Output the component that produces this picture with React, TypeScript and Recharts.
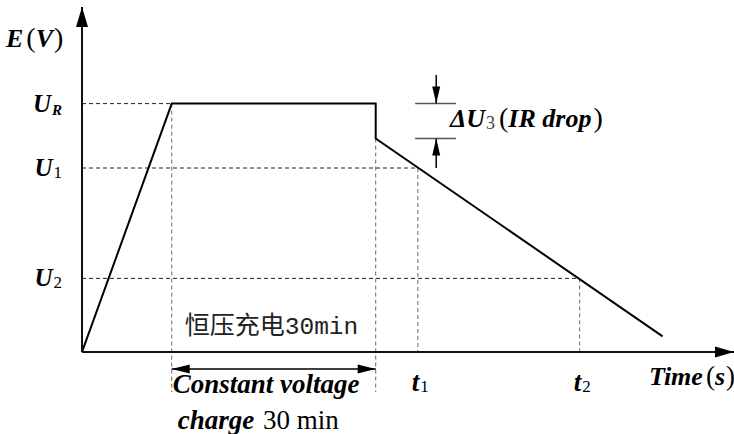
import React from "react";
import {
  LineChart,
  Line,
  XAxis,
  YAxis,
  ReferenceLine,
  ReferenceDot,
} from "recharts";

// charge/discharge curve (time in min, voltage in V, schematic)
const timeMin = [0, 13.2, 43.2, 43.2, 85.4];
const voltage = [0, 2.7, 2.7, 2.32, 0.17];

// voltage levels marked on the E axis
const levelValues = [0.8, 2.0, 2.7];
const levelSubs = ["2", "1", "R"];

// time marks on the Time axis
const timeMarks = [49.4, 73.2];
const timeSubs = ["1", "2"];

// axis ranges and annotation anchors
const timeMax = 95.9;
const voltMax = 3.75;
const chargeStart = 13.2;
const chargeEnd = 43.2;
const dropVolt = 2.32;
const spanBottom = -0.435;
const spanArrowLevel = -0.185;
const irTickX = [49, 55];
const irArrowX = 52.1;
const irArrowTop = 3.01;

const data = timeMin.map((t, i) => ({ t, v: voltage[i] }));

const SERIF = '"Liberation Serif", "Times New Roman", serif';
const DASH = "4 3";

function arrowHead(dir: string, len: number, half: number) {
  return (props: any) => {
    const { cx, cy } = props;
    let pts = "";
    if (dir === "up") pts = `${cx},${cy} ${cx - half},${cy + len} ${cx + half},${cy + len}`;
    if (dir === "down") pts = `${cx},${cy} ${cx - half},${cy - len} ${cx + half},${cy - len}`;
    if (dir === "right") pts = `${cx},${cy} ${cx - len},${cy - half} ${cx - len},${cy + half}`;
    if (dir === "left") pts = `${cx},${cy} ${cx + len},${cy - half} ${cx + len},${cy + half}`;
    return <polygon points={pts} fill="#000" />;
  };
}

function YTick(props: any) {
  const { x, y, index } = props;
  const sub = levelSubs[index];
  const isLetter = sub === "R";
  return (
    <text x={x} y={y} dy={8} textAnchor="end" fontFamily={SERIF} fill="#000">
      <tspan fontSize={25} fontWeight="bold" fontStyle="italic">U</tspan>
      <tspan
        fontSize={isLetter ? 15 : 17}
        dy={isLetter ? 3 : 2}
        dx={1}
        fontWeight={isLetter ? "bold" : "normal"}
        fontStyle={isLetter ? "italic" : "normal"}
      >
        {sub}
      </tspan>
    </text>
  );
}

function XTick(props: any) {
  const { x, y, index } = props;
  return (
    <text x={x - 6} y={y + 39} fontFamily={SERIF} fill="#000">
      <tspan fontSize={27} fontWeight="bold" fontStyle="italic">t</tspan>
      <tspan fontSize={17} dy={1} dx={1}>{timeSubs[index]}</tspan>
    </text>
  );
}

const yLabel = (props: any) => (
  <text x={props.cx - 76} y={props.cy + 40} fontFamily={SERIF} fill="#000" fontSize={28}>
    <tspan fontSize={26} fontWeight="bold" fontStyle="italic">E</tspan>
    <tspan dx={3}>(</tspan>
    <tspan fontSize={26} fontWeight="bold" fontStyle="italic">V</tspan>
    <tspan dx={1}>)</tspan>
  </text>
);

const xLabel = (props: any) => (
  <text x={props.cx + 1} y={props.cy + 33} textAnchor="end" fontFamily={SERIF} fill="#000" fontSize={27}>
    <tspan fontSize={26} fontWeight="bold" fontStyle="italic">Time</tspan>
    <tspan dx={3}>(</tspan>
    <tspan fontSize={26} fontWeight="bold" fontStyle="italic">s</tspan>
    <tspan dx={1}>)</tspan>
  </text>
);

const irLabel = (props: any) => (
  <text x={props.cx - 6} y={props.cy + 23} fontFamily={SERIF} fill="#000" fontSize={28}>
    <tspan fontSize={26} fontWeight="bold" fontStyle="italic">ΔU</tspan>
    <tspan fontSize={18} dy={2} dx={1} fill="#444">3</tspan>
    <tspan dy={-2} dx={4}>(</tspan>
    <tspan fontSize={26} fontWeight="bold" fontStyle="italic">IR drop</tspan>
    <tspan dx={2}>)</tspan>
  </text>
);

const chargeLabels = (props: any) => (
  <g fill="#000">
    <text x={props.cx + 13} y={props.cy - 18} fontSize={25} fill="#222">
      <tspan fontFamily='"Noto Sans CJK SC", sans-serif'>恒压充电</tspan>
      <tspan fontFamily='"Liberation Mono", "DejaVu Sans Mono", monospace' fontSize={24.5}>30min</tspan>
    </text>
    <text x={props.cx + 1} y={props.cy + 41} fontFamily={SERIF} fontSize={27} fontWeight="bold" fontStyle="italic">
      Constant voltage
    </text>
    <text x={props.cx + 6} y={props.cy + 77} fontFamily={SERIF} fontSize={27}>
      <tspan fontWeight="bold" fontStyle="italic">charge</tspan>
      <tspan dx={2}> 30 min</tspan>
    </text>
  </g>
);

export default function App() {
  return (
    <div style={{ position: "absolute", left: 0, top: 0, background: "#fff" }}>
      <LineChart width={734} height={434} data={data} margin={{ top: 7, right: 0, bottom: 52, left: 22 }}>
        <XAxis
          dataKey="t"
          type="number"
          domain={[0, timeMax]}
          ticks={timeMarks}
          interval={0}
          tick={<XTick />}
          tickLine={false}
          tickSize={0}
          tickMargin={0}
          height={30}
          axisLine={{ stroke: "#111", strokeWidth: 2 }}
          allowDataOverflow
        />
        <YAxis
          type="number"
          domain={[0, voltMax]}
          ticks={levelValues}
          interval={0}
          tick={<YTick />}
          tickLine={false}
          tickSize={0}
          tickMargin={20}
          width={60}
          axisLine={{ stroke: "#111", strokeWidth: 2 }}
          allowDataOverflow
        />

        {/* dashed guides to the axes */}
        <ReferenceLine segment={[{ x: 0, y: levelValues[2] }, { x: chargeStart, y: levelValues[2] }]} stroke="#222" strokeDasharray={DASH} />
        <ReferenceLine segment={[{ x: 0, y: levelValues[1] }, { x: timeMarks[0], y: levelValues[1] }]} stroke="#222" strokeDasharray={DASH} />
        <ReferenceLine segment={[{ x: 0, y: levelValues[0] }, { x: timeMarks[1], y: levelValues[0] }]} stroke="#222" strokeDasharray={DASH} />
        <ReferenceLine segment={[{ x: chargeStart, y: levelValues[2] }, { x: chargeStart, y: spanBottom }]} stroke="#666" strokeDasharray={DASH} ifOverflow="visible" />
        <ReferenceLine segment={[{ x: chargeEnd, y: dropVolt }, { x: chargeEnd, y: spanBottom }]} stroke="#666" strokeDasharray={DASH} ifOverflow="visible" />
        <ReferenceLine segment={[{ x: timeMarks[0], y: levelValues[1] }, { x: timeMarks[0], y: 0 }]} stroke="#666" strokeDasharray={DASH} />
        <ReferenceLine segment={[{ x: timeMarks[1], y: levelValues[0] }, { x: timeMarks[1], y: 0 }]} stroke="#666" strokeDasharray={DASH} />

        {/* IR drop marker */}
        <ReferenceLine segment={[{ x: irTickX[0], y: levelValues[2] }, { x: irTickX[1], y: levelValues[2] }]} stroke="#555" strokeWidth={1.5} />
        <ReferenceLine segment={[{ x: irTickX[0], y: dropVolt }, { x: irTickX[1], y: dropVolt }]} stroke="#555" strokeWidth={1.5} />
        <ReferenceLine segment={[{ x: irArrowX, y: irArrowTop }, { x: irArrowX, y: levelValues[2] }]} stroke="#000" strokeWidth={1.5} />
        <ReferenceLine segment={[{ x: irArrowX, y: levelValues[1] }, { x: irArrowX, y: dropVolt }]} stroke="#000" strokeWidth={1.5} />
        <ReferenceDot x={irArrowX} y={levelValues[2]} r={0} shape={arrowHead("down", 17, 4)} />
        <ReferenceDot x={irArrowX} y={dropVolt} r={0} shape={arrowHead("up", 17, 4)} />
        <ReferenceDot x={irTickX[1]} y={levelValues[2]} r={0} shape={irLabel} />

        {/* constant voltage span */}
        <ReferenceLine segment={[{ x: chargeStart, y: spanArrowLevel }, { x: chargeEnd, y: spanArrowLevel }]} stroke="#000" strokeWidth={1.5} ifOverflow="visible" />
        <ReferenceDot x={chargeStart} y={spanArrowLevel} r={0} shape={arrowHead("left", 18, 4.5)} ifOverflow="visible" />
        <ReferenceDot x={chargeEnd} y={spanArrowLevel} r={0} shape={arrowHead("right", 18, 4.5)} ifOverflow="visible" />
        <ReferenceDot x={chargeStart} y={0} r={0} shape={chargeLabels} ifOverflow="visible" />

        {/* axis arrows and titles */}
        <ReferenceDot x={0} y={voltMax} r={0} shape={arrowHead("up", 20, 6)} ifOverflow="visible" />
        <ReferenceDot x={timeMax} y={0} r={0} shape={arrowHead("right", 19, 5.5)} ifOverflow="visible" />
        <ReferenceDot x={0} y={voltMax} r={0} shape={yLabel} ifOverflow="visible" />
        <ReferenceDot x={timeMax} y={0} r={0} shape={xLabel} ifOverflow="visible" />

        <Line
          type="linear"
          dataKey="v"
          stroke="#000"
          strokeWidth={2}
          dot={false}
          activeDot={false}
          isAnimationActive={false}
        />
      </LineChart>
    </div>
  );
}
